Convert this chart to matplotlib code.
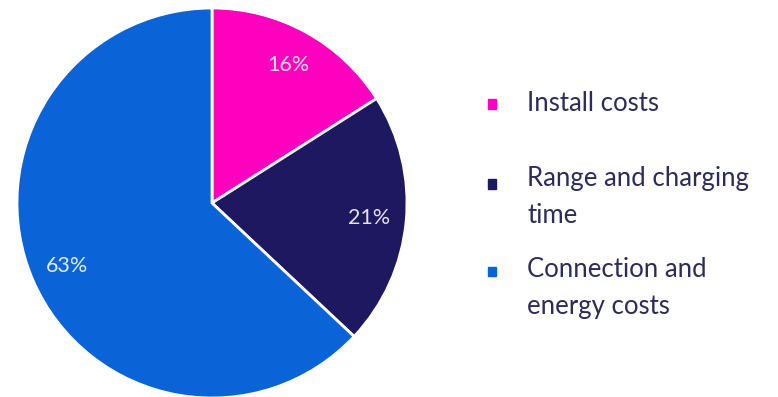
import matplotlib.pyplot as plt
from matplotlib.patches import Rectangle

plt.rcParams['font.family'] = ['Lato', 'DejaVu Sans']

labels = ['Install costs', 'Range and charging\ntime', 'Connection and\nenergy costs']
shares = [16, 21, 63]
colors = ['#FF00BF', '#1E1860', '#0A64D8']
text_color = '#2D2B5C'

W, H = 778, 397
fig = plt.figure(figsize=(W / 100, H / 100), dpi=100)

# pie axes placed in pixel terms: centre (212, 203), radius 195
cx, cy, r = 212, 203, 195
ax = fig.add_axes([(cx - r) / W, (H - cy - r) / H, 2 * r / W, 2 * r / H])
ax.pie(shares, colors=colors, startangle=90, counterclock=False,
       autopct='%d%%', pctdistance=0.81, radius=1,
       wedgeprops=dict(edgecolor='white', linewidth=2),
       textprops=dict(color='white', fontsize=15.5, alpha=0.88))
ax.set_xlim(-1, 1)
ax.set_ylim(-1, 1)
ax.set_aspect('equal')

# legend drawn by hand: square marker beside the first line of each label
rows_y = [104, 184, 271]
text_top = [91, 166, 257]
for lab, col, y, t in zip(labels, colors, rows_y, text_top):
    s = 9
    fig.add_artist(Rectangle(((492 - s / 2) / W, (H - y - s / 2) / H), s / W, s / H,
                             transform=fig.transFigure, color=col))
    fig.text(527 / W, (H - t) / H, lab, ha='left', va='top',
             fontsize=18.5, color=text_color, linespacing=1.6)

fig.savefig('out.png', dpi=100)
